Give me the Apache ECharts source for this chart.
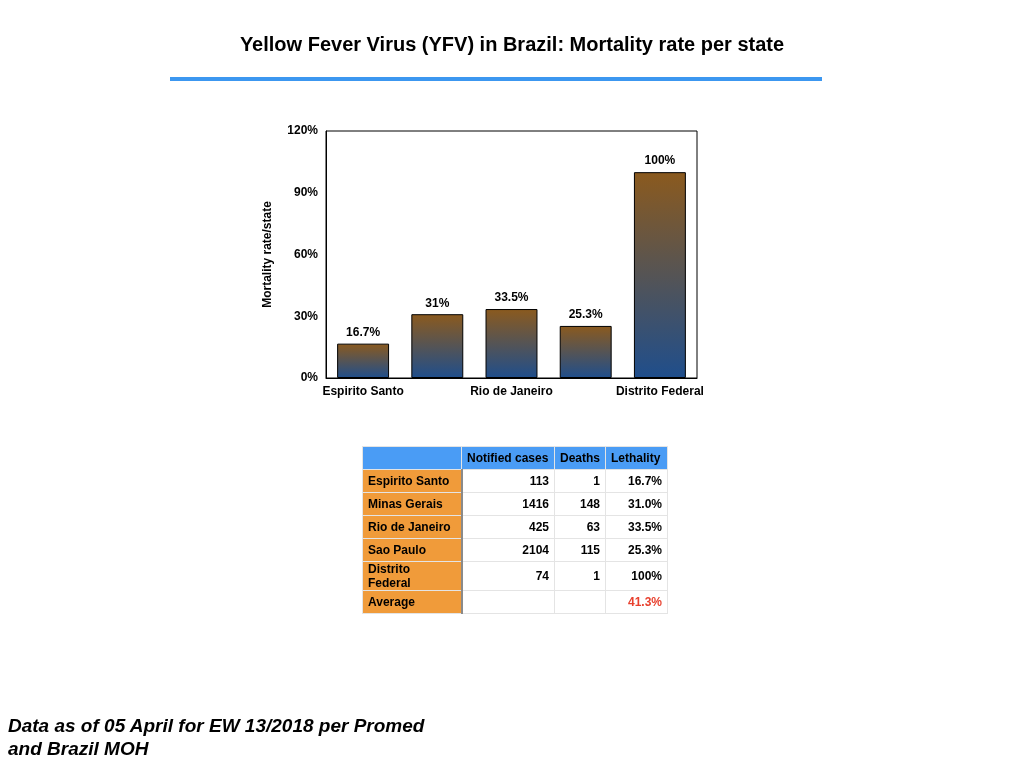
<!DOCTYPE html>
<html>
<head>
<meta charset="utf-8">
<script src="https://cdn.jsdelivr.net/npm/echarts@6/dist/echarts.min.js"></script>
<style>
body { margin:0; background:#fff; font-family:"Liberation Sans", Arial, sans-serif; }
#wrap { position:relative; width:1024px; height:768px; overflow:hidden; }
#main { position:absolute; left:0; top:0; width:1024px; height:768px; }
#title { position:absolute; left:0; width:1024px; top:33px; text-align:center; font-weight:bold; font-size:20px; }
#rule { position:absolute; left:170px; top:77px; width:652px; height:4px; background:#3C97F0; }
#foot { position:absolute; left:8px; top:714px; font-weight:bold; font-style:italic; font-size:19px; line-height:23px; }
#tbl { position:absolute; left:362px; top:446px; border-collapse:collapse; font-size:12px; font-weight:bold; }
#tbl td, #tbl th { height:22px; padding:0 5px; border:1px solid #e4e4e4; }
#tbl th { background:#4A9CF5; text-align:left; font-weight:bold; }
#tbl td { text-align:right; }
#tbl td.st { background:#F09B3A; text-align:left; border-right:2px solid #8a8a8a; }
#tbl td.red { color:#E8402E; }
</style>
</head>
<body>
<div id="wrap">
<div id="main"></div>
<div id="title">Yellow Fever Virus (YFV) in Brazil: Mortality rate per state</div>
<div id="rule"></div>
<table id="tbl"></table>
<div id="foot">Data as of 05 April for EW 13/2018 per Promed<br>and Brazil MOH</div>
</div>
<script>
var states   = ['Espirito Santo', 'Minas Gerais', 'Rio de Janeiro', 'Sao Paulo', 'Distrito Federal'];
var rates    = [16.7, 31, 33.5, 25.3, 100];
var cases    = [113, 1416, 425, 2104, 74];
var deaths   = [1, 148, 63, 115, 1];
var lethal   = ['16.7%', '31.0%', '33.5%', '25.3%', '100%'];
var headers  = ['', 'Notified cases', 'Deaths', 'Lethality'];
var average  = '41.3%';

// table
var html = '<tr>';
for (var i in headers) html += '<th style="width:' + [88, 82, 40, 51][i] + 'px">' + headers[i] + '</th>';
html += '</tr>';
for (var i in states) {
    html += '<tr><td class="st">' + states[i] + '</td><td>' + cases[i] + '</td><td>' + deaths[i] + '</td><td>' + lethal[i] + '</td></tr>';
}
html += '<tr><td class="st">Average</td><td></td><td></td><td class="red">' + average + '</td></tr>';
document.getElementById('tbl').innerHTML = html;

var chart = echarts.init(document.getElementById('main'));
var txt = {color: '#000', fontWeight: 'bold', fontSize: 12, fontFamily: 'Liberation Sans'};
var option = {
    grid: { left: 326, right: 327, top: 131, bottom: 390, show: true, borderColor: '#000', borderWidth: 1 },
    xAxis: {
        type: 'category',
        data: states,
        axisTick: { show: false },
        axisLine: { lineStyle: { color: '#000' } },
        axisLabel: Object.assign({ interval: 1, margin: 8 }, txt)
    },
    yAxis: {
        type: 'value',
        min: 0, max: 120, interval: 30,
        name: 'Mortality rate/state',
        nameLocation: 'middle',
        nameGap: 52,
        nameTextStyle: txt,
        splitLine: { show: false },
        axisLine: { show: true, lineStyle: { color: '#000' } },
        axisLabel: Object.assign({ formatter: '{value}%' }, txt)
    },
    series: [{
        type: 'bar',
        data: rates,
        barWidth: '70%',
        itemStyle: {
            borderColor: '#000', borderWidth: 1,
            color: new echarts.graphic.LinearGradient(0, 0, 0, 1, [
                { offset: 0, color: '#8B5A1E' },
                { offset: 1, color: '#1F4E8C' }
            ])
        },
        label: Object.assign({ show: true, position: 'top', formatter: '{c}%' }, txt)
    }]
};
chart.setOption(option, true);
</script>
</body>
</html>
